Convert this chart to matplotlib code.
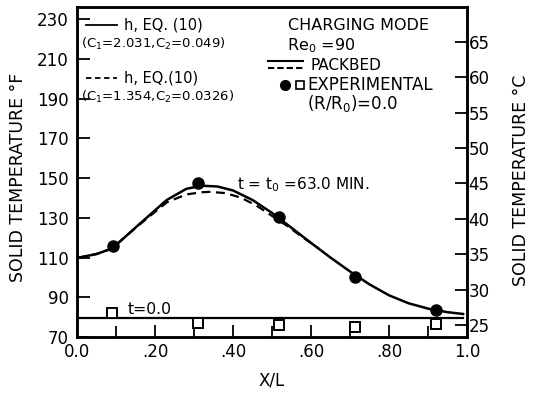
import matplotlib
matplotlib.use("Agg")
import matplotlib.pyplot as plt
from matplotlib.ticker import MultipleLocator

plt.rcParams['font.family'] = ['DejaVu Sans']

# solid curve: h, EQ.(10) C1=2.031, C2=0.049
x_solid = [0.0, 0.05, 0.09, 0.155, 0.23, 0.28, 0.32, 0.36, 0.40, 0.45, 0.50, 0.55, 0.60, 0.65, 0.70, 0.75, 0.80, 0.85, 0.90, 0.95, 0.99]
t_solid = [109.8, 111.8, 114.6, 126.0, 139.0, 144.6, 146.2, 145.8, 143.8, 139.0, 132.5, 125.0, 117.4, 110.0, 103.0, 96.5, 91.0, 87.0, 84.3, 82.5, 81.6]

# dashed curve: h, EQ.(10) C1=1.354, C2=0.0326
x_dash = [0.0, 0.05, 0.09, 0.155, 0.23, 0.28, 0.32, 0.34, 0.38, 0.42, 0.46, 0.50, 0.54, 0.58, 0.62]
t_dash = [109.8, 111.8, 114.6, 125.8, 137.8, 141.8, 142.9, 143.1, 142.5, 140.2, 136.2, 131.0, 125.8, 120.0, 114.6]

# experimental, t = t0
x_exp = [0.092, 0.31, 0.518, 0.713, 0.92]
t_exp = [115.9, 147.6, 130.5, 100.2, 83.6]

# experimental, t = 0
x_exp0 = [0.09, 0.31, 0.518, 0.713, 0.92]
t_exp0 = [82.1, 77.1, 76.0, 75.0, 76.6]

# initial temperature line, t = 0
x_init = [0.0, 0.99]
t_init = [79.6, 79.6]

yticks_f = [70, 90, 110, 130, 150, 170, 190, 210, 230]
yticks_c = [25, 30, 35, 40, 45, 50, 55, 60, 65]
xticks = [0.0, 0.2, 0.4, 0.6, 0.8, 1.0]
xtick_labels = ['0.0', '.20', '.40', '.60', '.80', '1.0']

fig = plt.figure(figsize=(5.36, 3.95), dpi=100)
ax = fig.add_axes([0.1437, 0.1468, 0.7276, 0.8355])

ax.plot(x_solid, t_solid, color='black', lw=1.8)
ax.plot(x_dash, t_dash, color='black', lw=1.6, ls=(0, (4, 2.5)))
ax.plot(x_init, t_init, color='black', lw=1.6)
ax.plot(x_exp, t_exp, 'o', color='black', ms=8)
ax.plot(x_exp0, t_exp0, 's', mfc='white', mec='black', mew=1.4, ms=7)

ax.set_xlim(0, 1.0)
ax.set_ylim(70, 236.2)
ax.set_xticks(xticks)
ax.set_xticklabels(xtick_labels)
ax.xaxis.set_minor_locator(MultipleLocator(0.1))
ax.set_yticks(yticks_f)
ax.tick_params(direction='in', length=9, width=1.3, labelsize=12, pad=6)
ax.tick_params(axis='x', which='minor', direction='in', length=8, width=1.3)
ax.tick_params(axis='x', pad=4)
for s in ax.spines.values():
    s.set_linewidth(1.8)

ax.set_xlabel('X/L', fontsize=12, labelpad=8)
ax.set_ylabel('SOLID TEMPERATURE °F', fontsize=12.5, va='center')
ax.yaxis.set_label_coords(-0.151, 0.485)

ax2 = ax.twinx()
ax2.set_ylim(23.3, 69.95)
ax2.set_yticks(yticks_c)
ax2.tick_params(direction='in', length=9, width=1.3, labelsize=12, pad=1)
ax2.set_ylabel('SOLID TEMPERATURE °C', fontsize=12.5, va='center', rotation=90)
ax2.yaxis.set_label_coords(1.138, 0.476)
for s in ax2.spines.values():
    s.set_linewidth(1.8)

# legend, drawn by hand to keep its layout
tr = fig.transFigure
def px(x, y):
    return x / 536, 1 - y / 395

fig.lines.append(plt.Line2D([86 / 536, 117 / 536], [1 - 25 / 395] * 2, transform=tr, color='black', lw=1.3))
fig.text(*px(124, 25), 'h, EQ. (10)', fontsize=10.5, va='center')
fig.text(*px(81, 44), '(C$_1$=2.031,C$_2$=0.049)', fontsize=9.5, va='center')
fig.lines.append(plt.Line2D([86 / 536, 117 / 536], [1 - 78 / 395] * 2, transform=tr, color='black', lw=1.3, ls=(0, (3, 2))))
fig.text(*px(124, 78), 'h, EQ.(10)', fontsize=10.5, va='center')
fig.text(*px(81, 97), '(C$_1$=1.354,C$_2$=0.0326)', fontsize=9.5, va='center')

fig.text(*px(288, 25), 'CHARGING MODE', fontsize=11.5, va='center')
fig.text(*px(287, 46), 'Re$_0$ =90', fontsize=11.5, va='center')
fig.lines.append(plt.Line2D([268 / 536, 303 / 536], [1 - 61 / 395] * 2, transform=tr, color='black', lw=1.5))
fig.lines.append(plt.Line2D([268 / 536, 303 / 536], [1 - 68 / 395] * 2, transform=tr, color='black', lw=1.5, ls=(0, (3, 1.5))))
fig.text(*px(310, 65), 'PACKBED', fontsize=11, va='center')
fig.lines.append(plt.Line2D([285 / 536], [1 - 85 / 395], transform=tr, marker='o', color='black', ms=7, ls='none'))
fig.lines.append(plt.Line2D([300 / 536], [1 - 85 / 395], transform=tr, marker='s', mfc='white', mec='black', mew=1.2, ms=6, ls='none'))
fig.text(*px(307, 85), 'EXPERIMENTAL', fontsize=12, va='center')
fig.text(*px(307, 104), '(R/R$_0$)=0.0', fontsize=12, va='center')

ax.text(0.41, 146.5, 't = t$_0$ =63.0 MIN.', fontsize=11, va='center')
ax.text(0.13, 84.0, 't=0.0', fontsize=11.3, va='center')

fig.savefig('out.png', dpi=100)
